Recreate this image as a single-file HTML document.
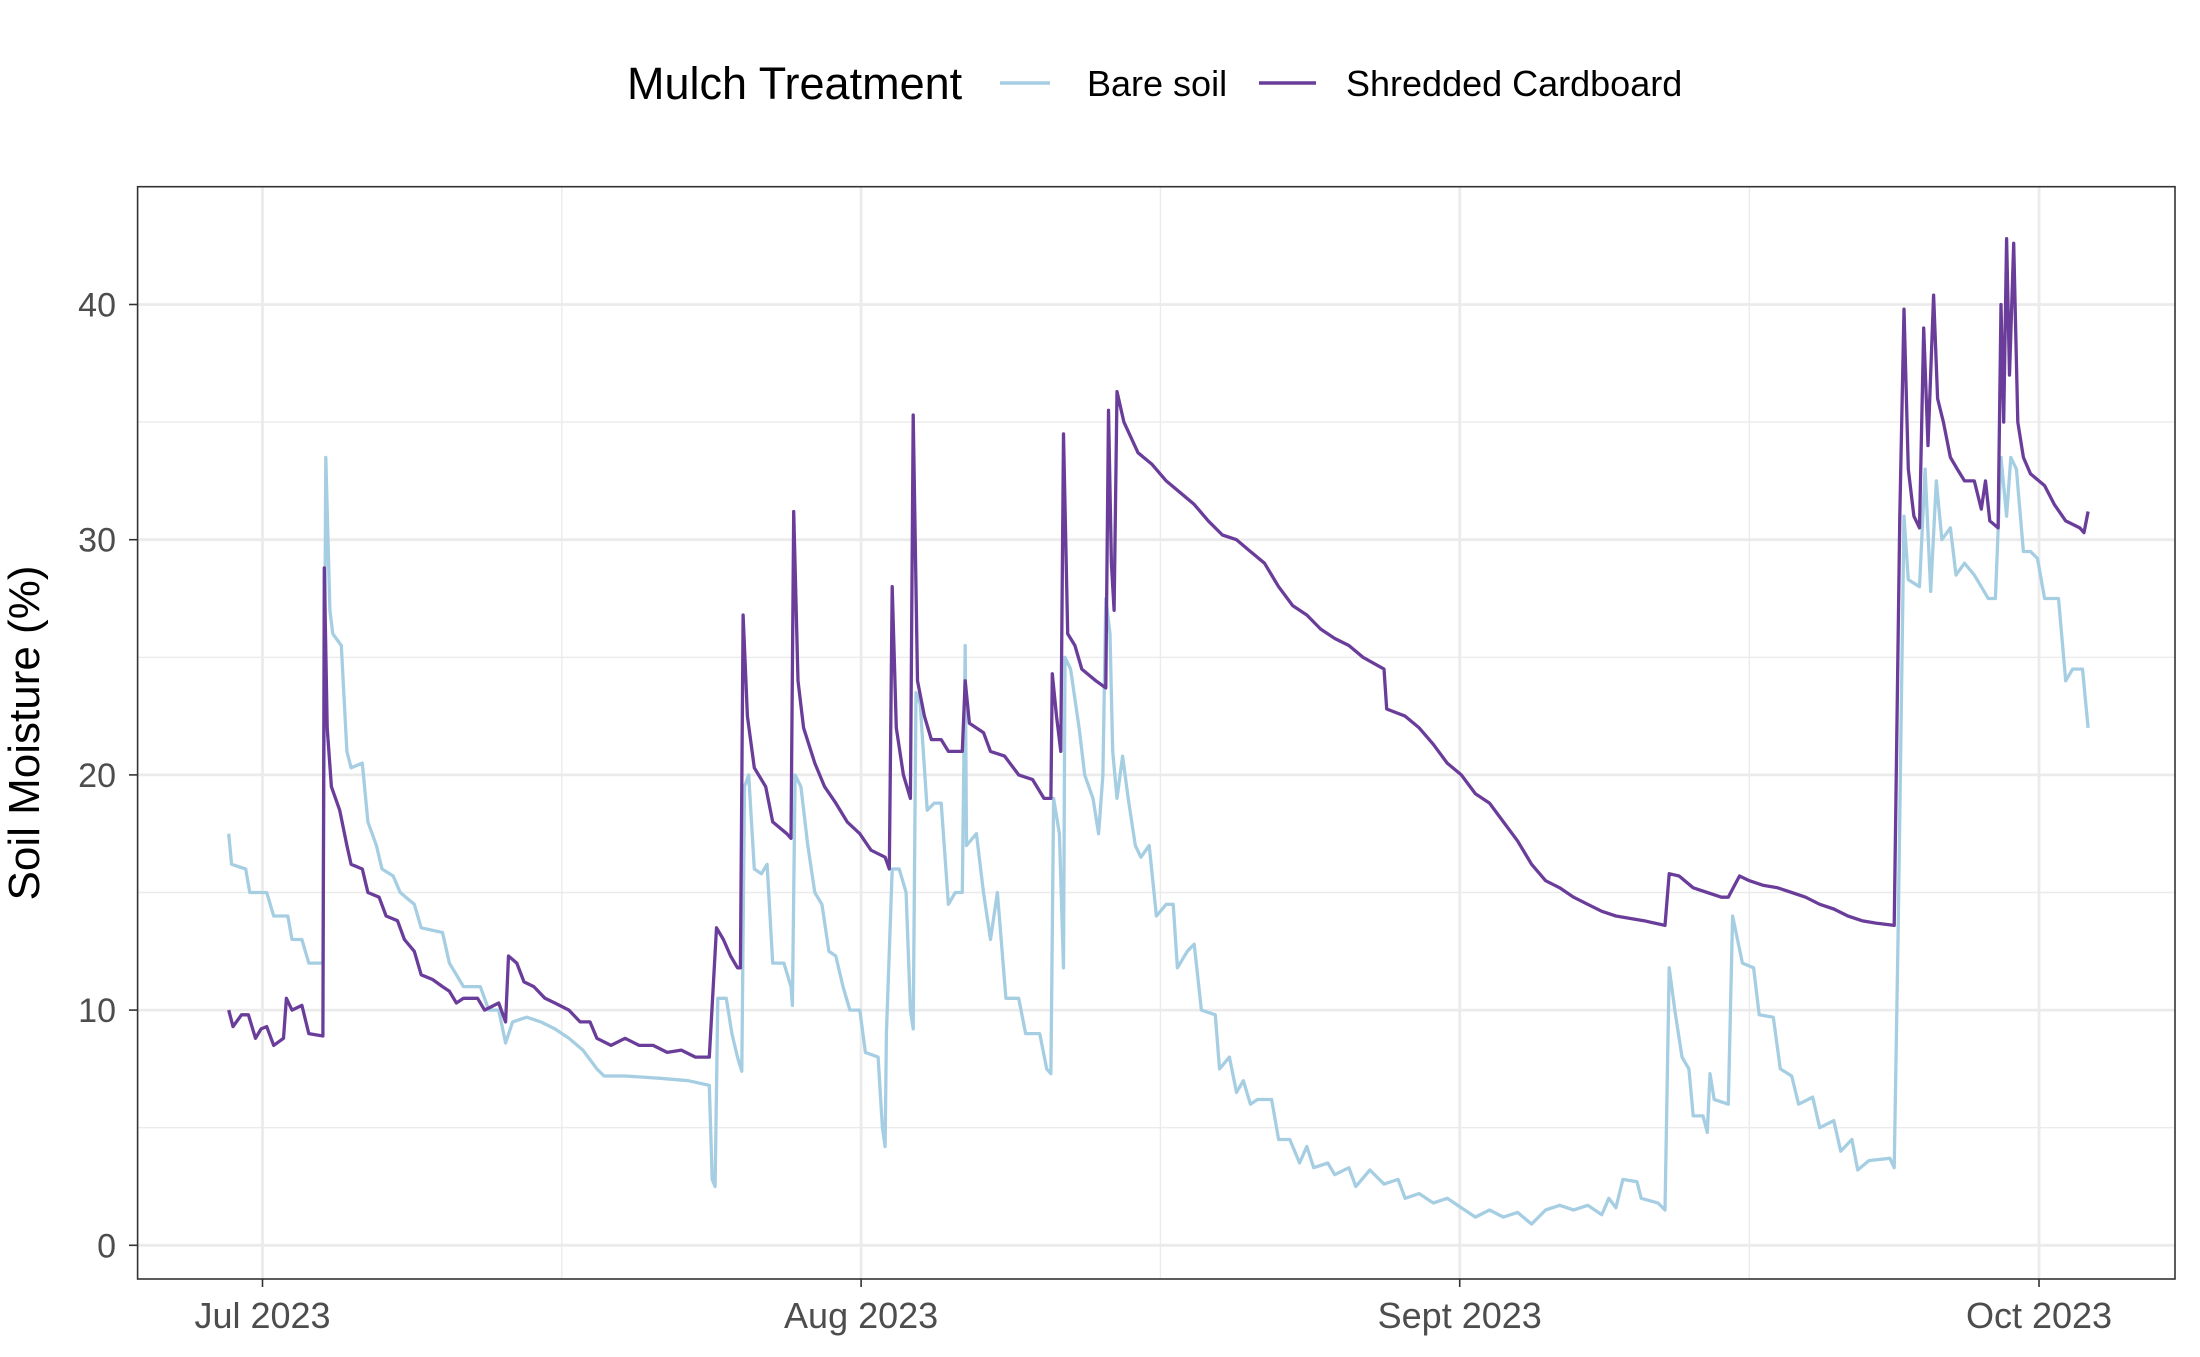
<!DOCTYPE html>
<html><head><meta charset="utf-8"><style>
html,body{margin:0;padding:0;background:#fff;}
svg{display:block;font-family:"Liberation Sans",Arial,sans-serif;}
</style></head><body>
<svg id="chart" width="2200" height="1357" viewBox="0 0 2200 1357" xmlns="http://www.w3.org/2000/svg">
<g id="legend">
  <text x="627" y="99" font-size="45" fill="#000">Mulch Treatment</text>
  <line x1="1000" y1="83" x2="1050" y2="83" stroke="#a6cee3" stroke-width="3.4"/>
  <text x="1087" y="96" font-size="36" fill="#000">Bare soil</text>
  <line x1="1259" y1="83" x2="1316" y2="83" stroke="#6a3d9a" stroke-width="3.4"/>
  <text x="1346" y="96" font-size="36" fill="#000">Shredded Cardboard</text>
</g>
<g id="grid"></g>
<g id="series"></g>
<rect x="137.6" y="186.7" width="2037.4" height="1092.3" fill="none" stroke="#333" stroke-width="1.6"/>
<g id="axes"></g>
<text transform="translate(39,733) rotate(-90)" text-anchor="middle" font-size="44" fill="#000">Soil Moisture (%)</text>
</svg>
<script>
const yTicks = [0, 10, 20, 30, 40];
const yMinor = [5, 15, 25, 35];
const xTickDays = [0, 31, 62, 92];
const xTickLabels = ["Jul 2023", "Aug 2023", "Sept 2023", "Oct 2023"];
const xMinorDays = [15.5, 46.5, 77];

const bareDays = [-1.75,-1.60,-0.87,-0.66,0.22,0.58,1.31,1.53,2.04,2.40,3.13,3.28,3.49,3.64,4.08,4.37,4.59,5.17,5.46,5.90,6.19,6.77,7.13,7.86,8.22,9.32,9.68,10.41,11.28,11.72,12.23,12.59,12.95,13.68,14.41,15.14,15.87,16.59,17.32,17.69,18.78,20.60,22.05,23.14,23.29,23.44,23.58,24.02,24.31,24.60,24.82,24.96,25.18,25.47,25.84,26.13,26.42,27.00,27.37,27.44,27.58,27.88,28.24,28.60,28.97,29.33,29.69,30.06,30.42,30.93,31.22,31.88,32.10,32.24,32.31,32.61,32.97,33.33,33.55,33.70,33.84,34.06,34.42,34.79,35.15,35.52,35.88,36.24,36.39,36.46,36.97,37.34,37.70,38.06,38.50,39.16,39.52,40.25,40.61,40.83,40.97,41.27,41.48,41.56,41.85,42.29,42.58,43.01,43.30,43.52,43.67,43.89,44.03,44.25,44.54,44.83,45.20,45.49,45.92,46.29,46.80,47.16,47.38,47.89,48.25,48.62,49.34,49.56,50.07,50.44,50.80,51.16,51.53,52.26,52.62,53.20,53.71,54.08,54.44,55.17,55.53,56.26,56.62,57.35,58.08,58.81,59.17,59.90,60.63,61.35,62.08,62.81,63.54,64.26,64.99,65.72,66.45,67.18,67.90,68.63,69.36,69.72,70.09,70.45,71.18,71.40,72.27,72.63,72.85,73.14,73.51,73.87,74.09,74.60,74.82,74.96,75.18,75.91,76.13,76.64,77.22,77.51,78.24,78.60,79.19,79.55,80.28,80.64,81.37,81.73,82.31,82.61,83.19,84.28,84.50,84.72,85.01,85.23,85.81,86.10,86.39,86.68,86.97,87.41,87.70,88.14,88.65,89.01,89.37,89.74,90.03,90.32,90.54,90.83,91.19,91.56,91.92,92.29,92.65,93.01,93.38,93.74,94.25,94.54];
const bareValues = [17.5,16.2,16,15,15,14,14,13,13,12,12,33.5,27,26,25.5,21,20.3,20.5,18,17,16,15.7,15,14.5,13.5,13.3,12,11,11,10,10,8.6,9.5,9.7,9.5,9.2,8.8,8.3,7.5,7.2,7.2,7.1,7,6.8,2.8,2.5,10.5,10.5,9,8,7.4,19.5,20,16,15.8,16.2,12,12,11,10.2,20,19.5,17,15,14.5,12.5,12.3,11,10,10,8.2,8,5,4.2,9,16,16,15,10,9.2,23.5,23,18.5,18.8,18.8,14.5,15,15,25.5,17,17.5,15,13,15,10.5,10.5,9,9,7.5,7.3,19,17.5,11.8,25,24.5,22,20,19,17.5,20,27.5,26,21,19,20.8,19,17,16.5,17,14,14.5,14.5,11.8,12.5,12.8,10,9.8,7.5,8,6.5,7,6,6.2,6.2,4.5,4.5,3.5,4.2,3.3,3.5,3,3.3,2.5,3.2,2.6,2.8,2,2.2,1.8,2,1.6,1.2,1.5,1.2,1.4,0.9,1.5,1.7,1.5,1.7,1.3,2,1.6,2.8,2.7,2,1.8,1.5,11.8,10,8,7.5,5.5,5.5,4.8,7.3,6.2,6,14,12,11.8,9.8,9.7,7.5,7.2,6,6.3,5,5.3,4,4.5,3.2,3.6,3.7,3.3,14,31,28.3,28,33,27.8,32.5,30,30.5,28.5,29,28.5,28,27.5,27.5,33.5,31,33.5,33,29.5,29.5,29.2,27.5,27.5,27.5,24,24.5,24.5,22];

const cardDays = [-1.75,-1.53,-1.09,-0.73,-0.36,-0.07,0.22,0.58,1.09,1.24,1.53,2.04,2.40,3.13,3.20,3.35,3.57,4.00,4.37,4.59,5.17,5.46,6.04,6.40,6.99,7.35,7.86,8.22,8.81,9.32,9.68,10.04,10.41,11.14,11.50,12.23,12.59,12.74,13.17,13.54,14.05,14.63,15.14,15.87,16.45,16.96,17.32,18.05,18.78,19.51,20.23,20.96,21.69,22.42,23.14,23.51,23.87,24.24,24.60,24.75,24.89,25.11,25.47,26.06,26.42,27.15,27.37,27.51,27.73,28.02,28.60,29.11,29.69,30.28,30.93,31.51,32.24,32.46,32.61,32.82,33.19,33.55,33.70,33.92,34.28,34.64,35.15,35.52,36.24,36.39,36.61,37.34,37.70,38.43,39.16,39.88,40.47,40.83,40.90,41.12,41.34,41.48,41.70,42.07,42.43,43.16,43.67,43.81,43.96,44.10,44.25,44.61,45.34,46.07,46.80,47.53,48.25,48.98,49.71,50.44,51.16,51.89,52.62,53.35,54.08,54.80,55.53,56.26,56.99,58.08,58.22,59.17,59.90,60.63,61.35,62.08,62.81,63.54,64.26,64.99,65.72,66.45,67.18,67.90,68.63,69.36,70.09,70.81,71.54,72.63,72.85,73.36,74.09,74.82,75.55,75.91,76.49,77.00,77.73,78.46,79.19,79.91,80.64,81.37,82.10,82.83,83.55,84.50,84.79,85.01,85.23,85.52,85.81,86.03,86.25,86.54,86.75,87.05,87.41,87.77,88.14,88.65,89.01,89.23,89.45,89.88,90.03,90.17,90.32,90.47,90.69,90.90,91.19,91.56,92.29,92.79,93.38,94.11,94.33,94.54];
const cardValues = [10,9.3,9.8,9.8,8.8,9.2,9.3,8.5,8.8,10.5,10,10.2,9,8.9,28.8,22,19.5,18.5,17,16.2,16,15,14.8,14,13.8,13,12.5,11.5,11.3,11,10.8,10.3,10.5,10.5,10,10.3,9.5,12.3,12,11.2,11,10.5,10.3,10,9.5,9.5,8.8,8.5,8.8,8.5,8.5,8.2,8.3,8,8,13.5,13,12.3,11.8,11.8,26.8,22.5,20.3,19.5,18,17.5,17.3,31.2,24,22,20.5,19.5,18.8,18,17.5,16.8,16.5,16,28,22,20,19,35.3,24,22.5,21.5,21.5,21,21,24,22.2,21.8,21,20.8,20,19.8,19,19,24.3,22.5,21,34.5,26,25.5,24.5,24,23.7,35.5,29,27,36.3,35,33.7,33.2,32.5,32,31.5,30.8,30.2,30,29.5,29,28,27.2,26.8,26.2,25.8,25.5,25,24.5,22.8,22.5,22,21.3,20.5,20,19.2,18.8,18,17.2,16.2,15.5,15.2,14.8,14.5,14.2,14,13.9,13.8,13.6,15.8,15.7,15.2,15,14.8,14.8,15.7,15.5,15.3,15.2,15,14.8,14.5,14.3,14,13.8,13.7,13.6,31,39.8,33,31,30.5,39,34,40.4,36,35,33.5,33,32.5,32.5,31.3,32.5,30.8,30.5,40,35,42.8,37,42.6,35,33.5,32.8,32.3,31.5,30.8,30.5,30.3,31.2];

const NS = "http://www.w3.org/2000/svg";
const PL = 137.6, PR = 2175, PT = 186.7, PB = 1279;
function xs(d){ return 262.5 + d * 19.31; }
function ys(v){ return 1245.3 - v * 23.52; }
function mk(tag, attrs, parent){ const e = document.createElementNS(NS, tag); for (const k in attrs) e.setAttribute(k, attrs[k]); parent.appendChild(e); return e; }

const grid = document.getElementById('grid');
const axes = document.getElementById('axes');
yMinor.forEach(v => {
  const l = mk('line', {x1:PL, x2:PR, y1:ys(v), y2:ys(v), stroke:'#ebebeb', 'stroke-width':1.4}, grid);
  
  
});
xMinorDays.forEach(d => {
  const l = mk('line', {x1:xs(d), x2:xs(d), y1:PT, y2:PB, stroke:'#ebebeb', 'stroke-width':1.4}, grid);
  
  
});
yTicks.forEach(v => {
  const l = mk('line', {x1:PL, x2:PR, y1:ys(v), y2:ys(v), stroke:'#ebebeb', 'stroke-width':2.8}, grid);
  
  
  const t = mk('line', {x1:129, x2:PL, y1:ys(v), y2:ys(v), stroke:'#333', 'stroke-width':1.6}, axes);
  
  
  const tx = mk('text', {x:116, y:ys(v)+12, 'text-anchor':'end', 'font-size':34, fill:'#4d4d4d'}, axes);
  tx.textContent = String(v);
  
  
});
xTickDays.forEach((d, i) => {
  const l = mk('line', {x1:xs(d), x2:xs(d), y1:PT, y2:PB, stroke:'#ebebeb', 'stroke-width':2.8}, grid);
  
  
  const t = mk('line', {x1:xs(d), x2:xs(d), y1:PB, y2:PB+8, stroke:'#333', 'stroke-width':1.6}, axes);
  
  
  const tx = mk('text', {x:xs(d), y:1328, 'text-anchor':'middle', 'font-size':36, fill:'#4d4d4d'}, axes);
  tx.textContent = xTickLabels[i];
  
  
});

const series = document.getElementById('series');
function drawLine(days, vals, color, name){
  const pts = days.map((d, i) => xs(d).toFixed(1) + ',' + ys(vals[i]).toFixed(1)).join(' ');
  const p = mk('polyline', {points:pts, fill:'none', stroke:color, 'stroke-width':3.3, 'stroke-linejoin':'round'}, series);
  
  
}
drawLine(bareDays, bareValues, '#a6cee3', 'line-bare-soil');
drawLine(cardDays, cardValues, '#6a3d9a', 'line-shredded-cardboard');
</script>
</body></html>
